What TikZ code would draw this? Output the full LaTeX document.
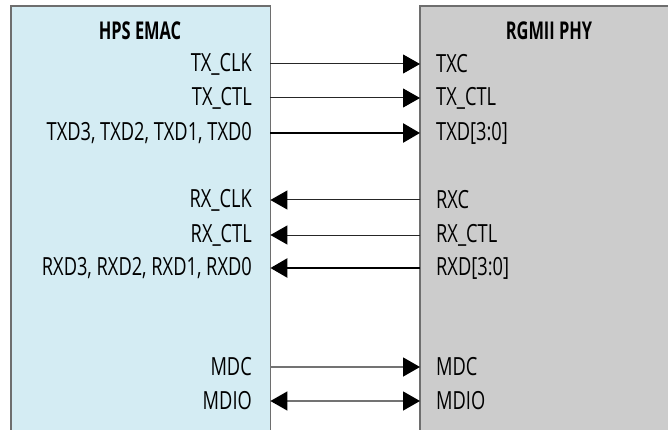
\documentclass[tikz,border=0pt]{standalone}
\usepackage{fontspec}
\setmainfont{Open Sans}[FakeStretch=0.73]
\newfontfamily\headfont{Open Sans}[FakeStretch=0.67]
\usetikzlibrary{arrows.meta}
\definecolor{emacfill}{HTML}{D4ECF3}
\definecolor{phyfill}{HTML}{CCCCCC}
\definecolor{edge}{HTML}{6E6E6E}
\tikzset{
  block/.style={rectangle, inner sep=0pt, anchor=north west},
  sig/.style={font=\fontsize{25}{27}\selectfont, inner sep=0pt},
  lsig/.style={sig, anchor=east},
  rsig/.style={sig, anchor=west},
  title/.style={font=\headfont\fontsize{24.5}{26}\selectfont\bfseries, inner sep=0pt},
  head/.tip={Triangle[length=17pt,width=19pt,black]},
  tip/.style={-head},
  both/.style={head-head},
  thin sig/.style={line width=1pt, draw=black!85},
  bus/.style={line width=2.6pt, draw=black},
  mgmt/.style={line width=1.4pt, draw=black!55},
}
\begin{document}
\begin{tikzpicture}[x=1pt, y=-1pt]
\useasboundingbox (0,0) rectangle (668,430);

% the two blocks, open at the bottom (and right for the PHY)
\node[block, fill=emacfill, minimum width=259pt, minimum height=440pt] (emac) at (11,6) {};
\node[block, fill=phyfill, minimum width=270pt, minimum height=440pt] (phy) at (420,6) {};
\draw[edge, line width=1.3pt] (emac.south west) -- (emac.north west) -- (emac.north east) -- (emac.south east);
\draw[edge, line width=1.3pt] (phy.south west) -- (phy.north west) -- (phy.north east);

\node[title] (emact) at (140,31) {HPS EMAC};
\node[title] (phyt) at (549,31) {RGMII PHY};

% EMAC-side signal names
\node[lsig] (l1) at (252,64) {TX\_CLK};
\node[lsig] (l2) at (252,98) {TX\_CTL};
\node[lsig] (l3) at (252,133) {TXD3, TXD2, TXD1, TXD0};
\node[lsig] (l4) at (252,200) {RX\_CLK};
\node[lsig] (l5) at (252,235) {RX\_CTL};
\node[lsig] (l6) at (252,268) {RXD3, RXD2, RXD1, RXD0};
\node[lsig] (l7) at (252,367) {MDC};
\node[lsig] (l8) at (252,401) {MDIO};

% PHY-side signal names
\node[rsig] (r1) at (436,64) {TXC};
\node[rsig] (r2) at (436,98) {TX\_CTL};
\node[rsig] (r3) at (436,133) {TXD[3:0]};
\node[rsig] (r4) at (436,200) {RXC};
\node[rsig] (r5) at (436,235) {RX\_CTL};
\node[rsig] (r6) at (436,268) {RXD[3:0]};
\node[rsig] (r7) at (436,367) {MDC};
\node[rsig] (r8) at (436,401) {MDIO};

% transmit path
\draw[thin sig, tip] (emac.east |- l1) -- (phy.west |- r1);
\draw[thin sig, tip] (emac.east |- l2) -- (phy.west |- r2);
\draw[bus, tip] (emac.east |- l3) -- (phy.west |- r3);
% receive path
\draw[thin sig, tip] (phy.west |- r4) -- (emac.east |- l4);
\draw[thin sig, tip] (phy.west |- r5) -- (emac.east |- l5);
\draw[bus, tip] (phy.west |- r6) -- (emac.east |- l6);
% management interface
\draw[mgmt, tip] (emac.east |- l7) -- (phy.west |- r7);
\draw[mgmt, both] (emac.east |- l8) -- (phy.west |- r8);
\end{tikzpicture}
\end{document}
